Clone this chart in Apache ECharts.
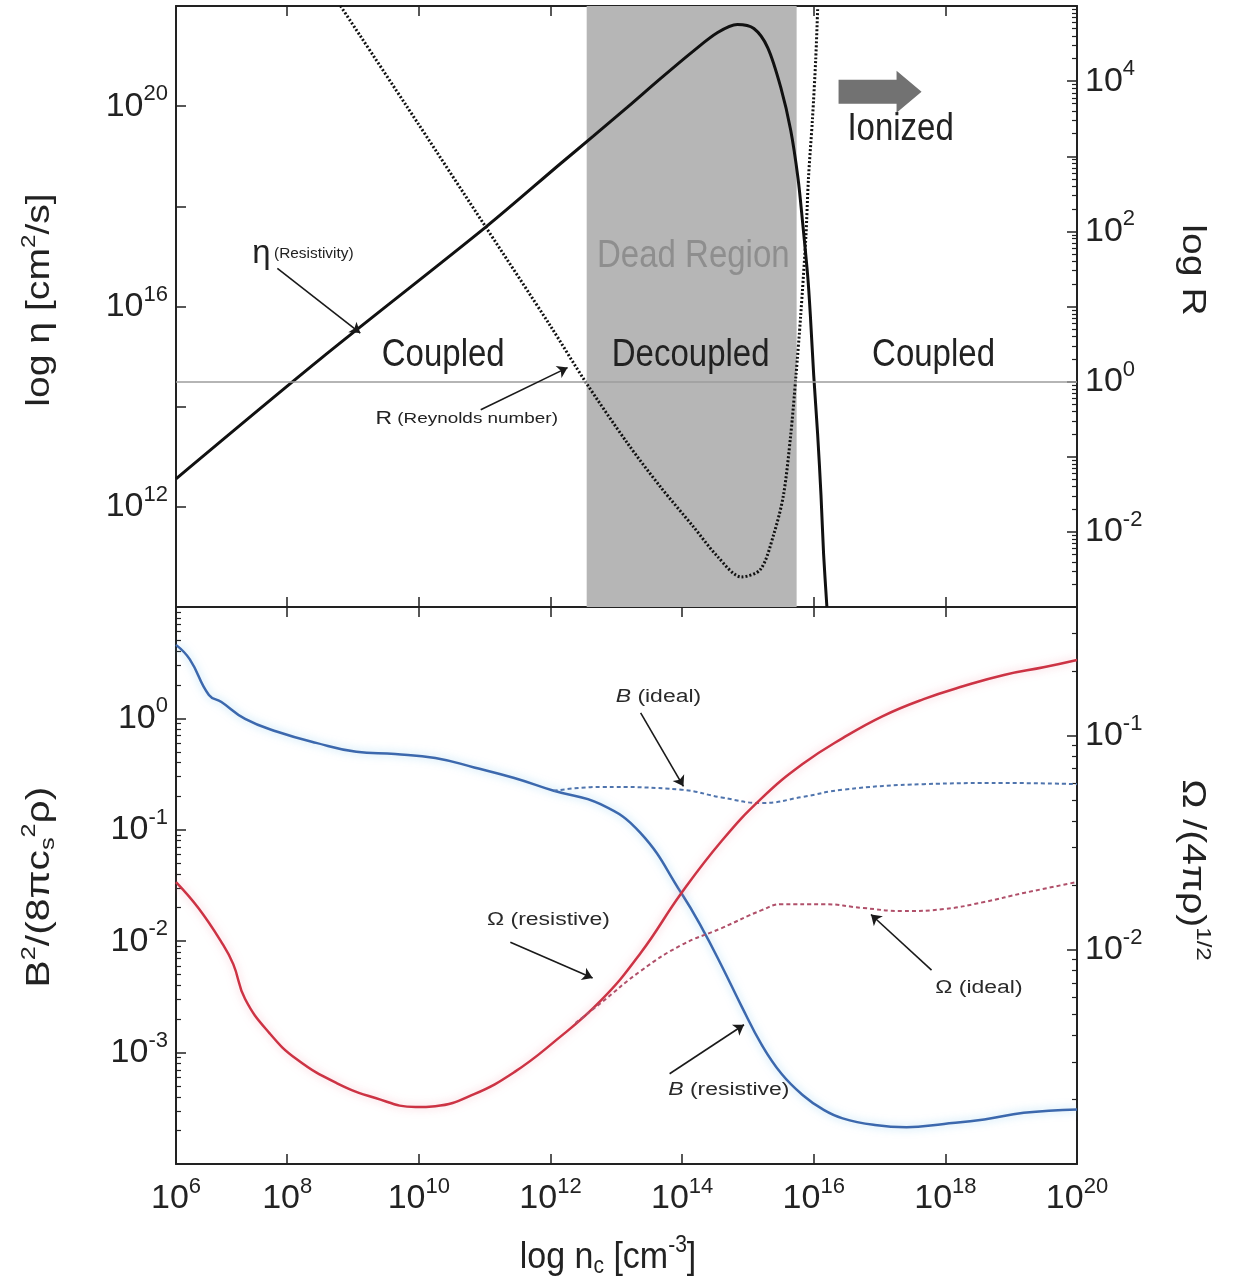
<!DOCTYPE html>
<html><head><meta charset="utf-8">
<script src="https://cdn.jsdelivr.net/npm/echarts@6/dist/echarts.min.js"></script>
<style>html,body{margin:0;padding:0;background:#fff}#c{width:1233px;height:1282px}</style>
</head><body><div id="c"></div>
<script>
// ---------- axes (all values are log10) ----------
const X_MIN = 6.31, X_MAX = 20;
const xTickExps = [8, 10, 12, 14, 16, 18];
const xLabelExps = [6, 8, 10, 12, 14, 16, 18, 20];
const etaRange = [10, 22], etaTicks = [12, 14, 16, 18, 20], etaLabels = [12, 16, 20];
const rRange = [-3, 5], rTicks = [-2, -1, 0, 1, 2, 3, 4], rLabels = [-2, 0, 2, 4];
const bRange = [-4, 1], bTicks = [-3, -2, -1, 0], bLabels = [-3, -2, -1, 0];
const omRange = [-3, -0.4], omTicks = [-2, -1], omLabels = [-2, -1];

// ---------- top panel: [log n_c, log eta] and [log n_c, log R] ----------
const etaCurve = [[6.31,12.56],[8.5,14.95],[11.03,17.6],[12.15,18.85],[12.65,19.4],[13.17,19.98],[13.67,20.55],[14.17,21.1],[14.54,21.47],[14.84,21.63],[15.09,21.55],[15.30,21.17],[15.50,20.37],[15.65,19.52],[15.76,18.57],[15.83,17.69],[15.91,16.58],[15.95,15.79],[16.00,14.62],[16.06,13.43],[16.11,12.24],[16.15,11.05],[16.20,10.0]];
const reynoldsCurve = [[8.81,5.0],[10,3.42],[11.03,2.04],[12,0.74],[12.53,0.0],[13.17,-0.82],[13.67,-1.40],[14.17,-1.93],[14.54,-2.33],[14.9,-2.6],[15.19,-2.5],[15.39,-2.04],[15.54,-1.51],[15.65,-0.71],[15.73,0.08],[15.80,0.86],[15.88,1.92],[15.92,2.71],[15.98,3.49],[16.03,4.29],[16.06,4.97]];
const deadRegion = [12.55, 15.74];

// ---------- bottom panel: [log n_c, log B^2/(8 pi cs^2 rho)] and [log n_c, log Omega/(4 pi rho)^1/2] ----------
const bResistive = [[6.31,0.66],[6.52,0.53],[6.81,0.21],[7.00,0.147],[7.36,-0.005],[7.85,-0.12],[8.44,-0.22],[9.05,-0.30],[9.64,-0.32],[10.25,-0.355],[10.84,-0.44],[11.45,-0.535],[12.05,-0.65],[12.76,-0.77],[13.37,-1.03],[13.99,-1.57],[14.30,-1.88],[14.60,-2.22],[14.90,-2.58],[15.21,-2.93],[15.51,-3.19],[15.83,-3.38],[16.14,-3.51],[16.44,-3.59],[16.93,-3.65],[17.41,-3.67],[17.98,-3.64],[18.59,-3.60],[19.19,-3.54],[20.0,-3.51]];
const bIdeal = [[12.05,-0.65],[12.76,-0.615],[13.99,-0.64],[14.60,-0.71],[15.21,-0.76],[15.83,-0.705],[16.44,-0.64],[17.67,-0.59],[18.89,-0.58],[20.0,-0.59]];
const omResistive = [[6.31,-1.684],[6.65,-1.805],[7.00,-1.964],[7.18,-2.067],[7.36,-2.23],[7.73,-2.389],[8.14,-2.51],[8.75,-2.622],[9.34,-2.692],[9.95,-2.734],[10.25,-2.73],[10.84,-2.674],[11.45,-2.571],[12.05,-2.431],[12.76,-2.239],[13.37,-2.015],[13.99,-1.735],[14.60,-1.492],[15.21,-1.292],[15.83,-1.133],[16.44,-1.012],[17.05,-0.909],[17.67,-0.83],[18.28,-0.769],[18.89,-0.717],[19.51,-0.68],[20.0,-0.647]];
const omIdeal = [[12.38,-2.342],[12.76,-2.25],[13.37,-2.099],[13.99,-1.978],[14.60,-1.899],[15.21,-1.815],[15.51,-1.787],[16.14,-1.787],[16.75,-1.805],[17.35,-1.819],[17.98,-1.81],[18.59,-1.777],[19.19,-1.735],[20.0,-1.684]];

// ---------- styling ----------
const FONT = '"Liberation Sans", Arial, sans-serif';
const INK = '#222';
const rich = {
  b: {fontSize: 34, fontFamily: FONT, color: INK},
  s: {fontSize: 22, fontFamily: FONT, color: INK, padding: [0, 0, 24, 0]}
};
const pow = v => '{b|10}{s|' + Math.round(v) + '}';
function logMinor(min, max) {
  const out = [];
  for (let d = Math.floor(min); d < Math.ceil(max); d++)
    for (let k = 2; k <= 9; k++) { const v = d + Math.log10(k); if (v > min && v < max) out.push(v); }
  return out;
}
const axLine = {show: true, onZero: false, lineStyle: {color: INK, width: 2}};
function xAx(grid, pos, labels) {
  return {type: 'value', gridIndex: grid, position: pos, min: X_MIN, max: X_MAX,
    splitLine: {show: false}, axisLine: axLine,
    axisTick: {show: true, inside: true, length: 10, lineStyle: {color: INK, width: 1.5}, customValues: xTickExps},
    axisLabel: labels ? {show: true, margin: 12, customValues: xLabelExps.map(e => Math.max(e, X_MIN)), formatter: pow, rich: rich}
                      : {show: false}};
}
function yAx(grid, pos, range, ticks, labels) {
  return {type: 'value', gridIndex: grid, position: pos, min: range[0], max: range[1],
    splitLine: {show: false}, axisLine: axLine,
    axisTick: {show: true, inside: true, length: 10, lineStyle: {color: INK, width: 1.5}, customValues: ticks},
    axisLabel: {show: true, margin: 8, customValues: labels, formatter: pow, rich: rich}};
}
function yMinor(grid, pos, range) {
  return {type: 'value', gridIndex: grid, position: pos, min: range[0], max: range[1],
    splitLine: {show: false}, axisLine: {show: false, onZero: false},
    axisTick: {show: true, inside: true, length: 5, lineStyle: {color: INK, width: 1.2}, customValues: logMinor(range[0], range[1])},
    axisLabel: {show: false}};
}
const arrowLine = (pairs) => ({
  silent: true, symbol: ['none', 'arrow'], symbolSize: 10, label: {show: false},
  lineStyle: {color: '#1a1a1a', width: 1.6, type: 'solid'},
  emphasis: {disabled: true},
  data: pairs.map(p => [{coord: p[0]}, {coord: p[1]}])
});

const option = {
  animation: false,
  backgroundColor: '#fff',
  grid: [
    {left: 176, top: 6, width: 901, height: 601},
    {left: 176, top: 607, width: 901, height: 557}
  ],
  xAxis: [xAx(0, 'bottom', false), xAx(0, 'top', false), xAx(1, 'bottom', true), xAx(1, 'top', false)],
  yAxis: [
    yAx(0, 'left', etaRange, etaTicks, etaLabels),
    yAx(0, 'right', rRange, rTicks, rLabels),
    yMinor(0, 'right', rRange),
    yAx(1, 'left', bRange, bTicks, bLabels),
    yMinor(1, 'left', bRange),
    yAx(1, 'right', omRange, omTicks, omLabels),
    yMinor(1, 'right', omRange)
  ],
  series: [
    {name: 'dead', type: 'line', xAxisIndex: 0, yAxisIndex: 1, data: [], z: 1, silent: true,
      markArea: {silent: true, itemStyle: {color: '#b6b6b6'}, data: [[{xAxis: deadRegion[0]}, {xAxis: deadRegion[1]}]]},
      markLine: {silent: true, symbol: ['none', 'none'], label: {show: false},
        lineStyle: {color: '#9c9c9c', width: 1.5, type: 'solid'}, data: [{yAxis: 0}]}},
    {name: 'eta', type: 'line', xAxisIndex: 0, yAxisIndex: 0, data: etaCurve, showSymbol: false, smooth: 0.3, z: 3,
      lineStyle: {color: '#111', width: 3},
      markLine: arrowLine([[[7.85, 16.76], [9.11, 15.47]], [[10.94, 13.94], [12.26, 14.78]]])},
    {name: 'R', type: 'line', xAxisIndex: 0, yAxisIndex: 1, data: reynoldsCurve, showSymbol: false, smooth: 0.3, z: 3,
      lineStyle: {color: '#111', width: 3, type: [2, 2]}},
    {name: 'B resistive', type: 'line', xAxisIndex: 2, yAxisIndex: 3, data: bResistive, showSymbol: false, smooth: 0.45, z: 3,
      lineStyle: {color: '#3c68ad', width: 2.5, shadowColor: 'rgba(110,190,235,0.6)', shadowBlur: 8},
      markLine: arrowLine([[[13.37, 0.05], [14.02, -0.61]], [[11.39, -2.01], [12.64, -2.33]], [[17.79, -2.26], [16.87, -1.76]], [[13.81, -3.19], [14.94, -2.75]]])},
    {name: 'B ideal', type: 'line', xAxisIndex: 2, yAxisIndex: 3, data: bIdeal, showSymbol: false, smooth: 0.45, z: 3,
      lineStyle: {color: '#4f74ad', width: 2, type: [4, 3]}},
    {name: 'Omega resistive', type: 'line', xAxisIndex: 2, yAxisIndex: 5, data: omResistive, showSymbol: false, smooth: 0.45, z: 3,
      lineStyle: {color: '#cc3344', width: 2.5, shadowColor: 'rgba(240,140,160,0.55)', shadowBlur: 8}},
    {name: 'Omega ideal', type: 'line', xAxisIndex: 2, yAxisIndex: 5, data: omIdeal, showSymbol: false, smooth: 0.45, z: 3,
      lineStyle: {color: '#b0506a', width: 2, type: [4, 3]}}
  ]
};
const chart = echarts.init(document.getElementById('c'));
chart.setOption(option);

// ---------- annotations (anchored in data coordinates) ----------
const topNotes = [
  {t: 'Dead Region', at: [14.17, 17.0], color: '#8e8e8e'},
  {t: 'Decoupled', at: [14.13, 15.02]},
  {t: 'Coupled', at: [10.37, 15.02]},
  {t: 'Coupled', at: [17.82, 15.02]},
  {t: 'Ionized', at: [17.32, 19.54]}
];
const bottomNotes = [
  {t: '{i|B} (ideal)', at: [13.64, 0.19]},
  {t: 'Ω (resistive)', at: [11.97, -1.81]},
  {t: 'Ω (ideal)', at: [18.51, -2.42]},
  {t: '{i|B} (resistive)', at: [14.71, -3.34]}
];
const ionizedArrowAt = [17.0, 20.29];
const etaNoteAt = [7.47, 17.06];
const rNoteAt = [9.34, 13.75];

const topPx = p => chart.convertToPixel({xAxisIndex: 0, yAxisIndex: 0}, p);
const botPx = p => chart.convertToPixel({xAxisIndex: 2, yAxisIndex: 3}, p);
function txt(p, text, o) {
  o = o || {};
  return {type: 'text', x: p[0], y: p[1], scaleX: o.sx || 1, scaleY: o.sy || 1, rotation: o.rot || 0, z: 100, silent: true,
    style: {text: text, fontFamily: FONT, fontSize: o.fs || 33, fill: o.color || INK,
      align: o.align || 'center', verticalAlign: 'middle', textAlign: o.align || 'center', textVerticalAlign: 'middle',
      rich: o.rich || {}}};
}
const els = [];
topNotes.forEach(n => els.push(txt(topPx(n.at), n.t, {fs: 33, sy: 1.15, color: n.color})));
const smallRich = {e: {fontSize: 30, fontFamily: FONT, color: INK}, r: {fontSize: 14, fontFamily: FONT, color: '#333', padding: [0, 0, 0, 3]}};
els.push(txt(topPx(etaNoteAt), '{e|η}{r|(Resistivity)}', {align: 'left', rich: smallRich, sx: 1.1, sy: 1.1}));
els.push(txt(topPx(rNoteAt), '{e|R}{r| (Reynolds number)}',
  {align: 'left', rich: {e: {fontSize: 17, fontFamily: FONT, color: '#333'}, r: {fontSize: 14, fontFamily: FONT, color: '#333'}}, sx: 1.35, sy: 1.1}));
bottomNotes.forEach(n => els.push(txt(botPx(n.at), n.t,
  {fs: 17, sx: 1.35, sy: 1.05, color: '#2a2a2a', rich: {i: {fontSize: 17, fontFamily: FONT, fontStyle: 'italic', color: '#2a2a2a'}}})));
// gray "Ionized" block arrow
const ac = topPx(ionizedArrowAt);
els.push({type: 'polygon', z: 100, silent: true,
  shape: {points: [[ac[0] - 41, ac[1] - 12], [ac[0] + 17, ac[1] - 12], [ac[0] + 17, ac[1] - 21], [ac[0] + 42, ac[1]],
                   [ac[0] + 17, ac[1] + 21], [ac[0] + 17, ac[1] + 12], [ac[0] - 41, ac[1] + 12]]},
  style: {fill: '#727272'}});
// axis titles
const tRich = {
  t: {fontSize: 34, fontFamily: FONT, color: INK},
  s: {fontSize: 21, fontFamily: FONT, color: INK, padding: [0, 0, 22, 0]},
  d: {fontSize: 21, fontFamily: FONT, color: INK, padding: [16, 0, 0, 0]},
  i: {fontSize: 34, fontFamily: FONT, color: INK, fontStyle: 'italic'}
};
els.push(txt([40, 300], '{t|log η [cm}{s|2}{t|/s]}', {rot: Math.PI / 2, sx: 1.15, rich: tRich}));
els.push(txt([1192, 270], '{t|log R}', {rot: -Math.PI / 2, sx: 1.15, rich: tRich}));
els.push(txt([40, 887], '{t|B}{s|2}{t|/(8πc}{d|s}{s|2}{t|ρ)}', {rot: Math.PI / 2, sx: 1.2, rich: tRich}));
els.push(txt([1192, 870], '{t|Ω /(4πρ)}{s|1/2}', {rot: -Math.PI / 2, sx: 1.15, rich: tRich}));
els.push(txt([608, 1258], '{t|log n}{d|c}{t| [cm}{s|-3}{t|]}', {sy: 1.1, rich: tRich}));
chart.setOption({graphic: {elements: els}});
</script>
</body></html>
